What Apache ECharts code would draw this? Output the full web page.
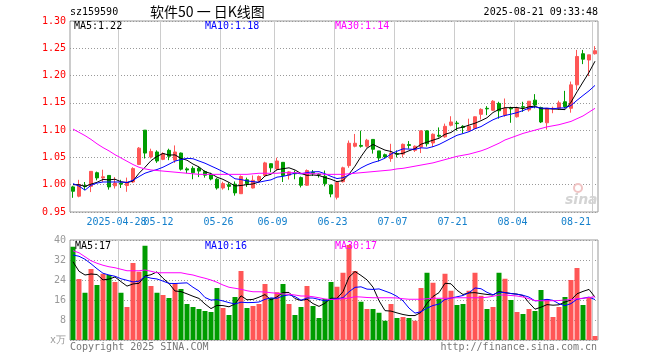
<!DOCTYPE html>
<html><head><meta charset="utf-8">
<script src="https://cdn.jsdelivr.net/npm/echarts@6/dist/echarts.min.js"></script>
<style>html,body{margin:0;padding:0;background:#fff}#c{width:660px;height:360px}</style>
</head><body><div id="c"></div>
<script>
const dates = ['2025-04-16','2025-04-17','2025-04-18','2025-04-21','2025-04-22','2025-04-23','2025-04-24','2025-04-25','2025-04-28','2025-04-29','2025-04-30',
'2025-05-06','2025-05-07','2025-05-08','2025-05-09','2025-05-12','2025-05-13','2025-05-14','2025-05-15','2025-05-16','2025-05-19','2025-05-20','2025-05-21','2025-05-22','2025-05-23','2025-05-26','2025-05-27','2025-05-28','2025-05-29','2025-05-30',
'2025-06-03','2025-06-04','2025-06-05','2025-06-06','2025-06-09','2025-06-10','2025-06-11','2025-06-12','2025-06-13','2025-06-16','2025-06-17','2025-06-18','2025-06-19','2025-06-20','2025-06-23','2025-06-24','2025-06-25','2025-06-26','2025-06-27','2025-06-30',
'2025-07-01','2025-07-02','2025-07-03','2025-07-04','2025-07-07','2025-07-08','2025-07-09','2025-07-10','2025-07-11','2025-07-14','2025-07-15','2025-07-16','2025-07-17','2025-07-18','2025-07-21','2025-07-22','2025-07-23','2025-07-24','2025-07-25','2025-07-28','2025-07-29','2025-07-30','2025-07-31',
'2025-08-01','2025-08-04','2025-08-05','2025-08-06','2025-08-07','2025-08-08','2025-08-11','2025-08-12','2025-08-13','2025-08-14','2025-08-15','2025-08-18','2025-08-19','2025-08-20','2025-08-21'];

const opens = [0.996,0.979,0.998,0.997,1.022,1.0125,1.017,0.998,1.003,0.9985,
1.005,1.037,1.100,1.051,1.060,1.0465,1.063,1.045,1.058,1.029,
1.030,1.030,1.024,1.019,1.010,0.994,1.000,1.001,0.9835,1.009,
0.994,1.008,1.017,1.0385,1.029,1.041,1.0175,1.021,1.013,0.999,
1.0225,1.019,1.0155,0.9995,0.977,1.0055,1.035,1.0705,1.072,1.0705,
1.083,1.062,1.055,1.048,1.057,1.056,1.0735,1.063,1.069,1.0987,
1.0765,1.0905,1.0877,1.109,1.113,1.107,1.099,1.103,1.129,1.140,
1.1365,1.149,1.1275,1.1405,1.1245,1.143,1.137,1.155,1.1415,1.1135,
1.139,1.140,1.152,1.140,1.183,1.240,1.2285,1.240];
const closes = [0.988,1.0005,0.9965,1.0245,1.0125,1.0145,0.996,1.003,1.001,1.0045,
1.0295,1.067,1.058,1.061,1.0435,1.057,1.052,1.060,1.0285,1.027,
1.022,1.025,1.0175,1.0105,0.994,1.002,0.997,0.985,1.015,1.002,
1.008,1.015,1.040,1.031,1.0435,1.017,1.0235,1.020,0.999,1.026,
1.021,1.018,1.002,0.983,1.004,1.031,1.076,1.076,1.0705,1.0815,
1.065,1.049,1.051,1.058,1.056,1.074,1.072,1.0705,1.0987,1.075,
1.0925,1.089,1.107,1.115,1.112,1.105,1.107,1.1245,1.138,1.139,
1.153,1.1355,1.140,1.139,1.140,1.142,1.153,1.146,1.115,1.140,
1.140,1.150,1.143,1.183,1.235,1.230,1.238,1.2455];
const lows = [0.976,0.977,0.990,0.9865,1.008,1.005,0.991,0.993,0.994,0.987,
1.003,1.036,1.048,1.048,1.040,1.045,1.045,1.040,1.026,1.021,
1.010,1.014,1.013,1.008,0.991,0.991,0.990,0.980,0.9835,0.996,
0.993,1.005,1.016,1.023,1.026,1.005,1.0095,1.010,0.995,0.998,
1.016,1.013,0.997,0.977,0.973,1.004,1.031,1.0685,1.068,1.068,
1.057,1.043,1.049,1.042,1.050,1.050,1.066,1.060,1.058,1.070,
1.069,1.0865,1.086,1.107,1.099,1.094,1.098,1.102,1.1195,1.1275,
1.135,1.121,1.1245,1.1135,1.123,1.1335,1.134,1.140,1.113,1.101,
1.131,1.137,1.140,1.132,1.1735,1.221,1.199,1.2385];
const highs = [0.998,1.009,1.005,1.0245,1.024,1.0275,1.017,1.014,1.009,1.013,
1.032,1.069,1.100,1.066,1.063,1.0595,1.066,1.072,1.059,1.032,
1.034,1.033,1.026,1.022,1.012,1.0055,1.004,1.006,1.017,1.013,
1.017,1.017,1.042,1.039,1.0495,1.041,1.025,1.026,1.015,1.028,
1.027,1.021,1.026,1.000,1.006,1.033,1.081,1.093,1.099,1.084,
1.083,1.062,1.057,1.075,1.063,1.0755,1.080,1.072,1.0995,1.0995,
1.094,1.105,1.112,1.1255,1.117,1.109,1.121,1.125,1.140,1.144,
1.155,1.152,1.158,1.143,1.143,1.152,1.153,1.166,1.143,1.140,
1.143,1.154,1.172,1.189,1.247,1.247,1.238,1.254];
const volumes = [37.3,24.4,18.9,28.4,22.0,26.5,26.0,23.2,18.9,13.2,
30.8,27.3,37.7,21.6,18.9,18.0,16.8,22.7,20.4,14.4,
13.2,12.4,11.6,11.2,20.8,12.8,10.0,17.2,27.6,12.8,
13.6,14.4,22.4,16.8,19.1,22.4,14.4,10.0,13.2,21.6,
13.6,8.8,16.4,23.2,21.3,26.9,38.0,27.6,15.3,12.4,
12.4,10.9,7.7,14.4,8.8,9.2,8.8,7.7,20.8,26.9,
22.9,16.4,26.5,19.7,14.0,14.4,19.7,26.9,17.7,12.4,
13.2,26.9,24.5,16.0,11.2,10.4,12.4,11.6,20.0,16.4,
9.2,13.2,17.2,24.0,28.8,14.0,17.2,1.6];
// moving-average values read off the picture where earlier history is not shown
const ma5Lead = [1.000,1.000,0.997,1.001];
const ma10Lead = [1.002,0.9975,0.990,0.999,1.003,1.005,1.005,1.005,1.005];
const ma30 = [1.102,1.096,1.090,1.083,1.075,1.068,1.062,1.055,1.049,1.043,
1.037,1.032,1.029,1.027,1.026,1.025,1.024,1.023,1.022,1.021,
1.020,1.019,1.019,1.019,1.019,1.019,1.019,1.019,1.019,1.019,
1.020,1.021,1.021,1.021,1.021,1.022,1.022,1.022,1.021,1.021,
1.020,1.020,1.019,1.019,1.019,1.019,1.020,1.021,1.022,1.023,
1.024,1.025,1.026,1.027,1.029,1.030,1.032,1.034,1.036,1.038,
1.040,1.043,1.046,1.049,1.052,1.054,1.056,1.059,1.062,1.066,
1.071,1.076,1.082,1.086,1.090,1.094,1.097,1.100,1.103,1.106,
1.108,1.110,1.113,1.116,1.121,1.126,1.133,1.140];
const vma5Lead = [31.3,27.5,26.0,26.4];
const vma10Lead = [34.0,33.5,32.3,30.5,28.5,26.7,26.0,25.5,24.5];
const vma30 = [35.7,34.9,33.3,31.7,30.7,29.9,29.3,28.9,28.3,27.7,
27.7,27.7,28.0,27.5,26.9,26.9,26.9,26.9,26.9,26.4,
26.0,25.3,24.7,24.0,23.1,22.0,21.1,20.7,20.3,19.7,
19.3,19.3,19.2,18.9,18.7,18.4,18.3,18.0,17.6,17.6,
17.3,16.9,16.4,16.2,16.3,16.5,16.8,17.3,17.2,17.0,
16.9,16.9,16.9,16.9,16.8,16.5,16.3,16.3,16.3,16.5,
16.7,16.7,16.7,16.8,16.9,16.9,16.9,16.9,16.9,17.1,
17.5,18.0,18.0,17.8,17.6,17.2,16.5,15.8,15.7,15.7,
15.7,15.8,16.0,16.2,16.5,16.7,17.0,17.3];
const labelIdx = [8,15,25,34,44,54,64,74,87];
const priceTicks = {min:0.95, max:1.30, interval:0.05};
const volTicks = {min:0, max:40, interval:8};

function movingAvg(src, n, lead) {
  return src.map((v, i) => {
    if (i < n - 1) return lead[i];
    let s = 0; for (let k = i - n + 1; k <= i; k++) s += src[k];
    return +(s / n).toFixed(4);
  });
}
const ma5 = movingAvg(closes, 5, ma5Lead);
const ma10 = movingAvg(closes, 10, ma10Lead);
const vma5 = movingAvg(volumes, 5, vma5Lead);
const vma10 = movingAvg(volumes, 10, vma10Lead);

const RED = '#ff5656', GREEN = '#009c00';
const MONO = '"DejaVu Sans Mono", monospace';
const LEFT = 70, WIDTH = 528;
const LABEL_COLOR = '#1580cc';
const DATE_LINE = '#cccccc';
const lineSet = new Set(labelIdx);

function xAxis(g, which) {
  return {
    type: 'category', gridIndex: g, data: dates, boundaryGap: true, position: 'bottom', offset: 0,
    axisLine: {show: false}, axisTick: {show: false}, splitLine: {show: false},
    axisLabel: which ? {
      show: true, interval: (i) => which.has(i), margin: 5, hideOverlap: false,
      formatter: (v, i) => {
        const t = i === 8 ? v : v.slice(5);
        return (i === 87 ? '{e|' : '{n|') + t + '}';
      },
      rich: {
        n: {fontFamily: MONO, fontSize: 10, color: LABEL_COLOR, padding: [0, 9, 0, 0]},
        e: {fontFamily: MONO, fontSize: 10, color: LABEL_COLOR, padding: [0, 38, 0, 0]}
      }
    } : {show: false}
  };
}
function hiddenCat(g) {
  return {type: 'category', gridIndex: g, data: dates, boundaryGap: true, show: false};
}
// date lines: a 1px bar that sits on the right edge of day k-1's band, i.e. the left edge of day k
function dateLineSeries(xi, yi, ticks) {
  return [
    {type: 'bar', xAxisIndex: xi, yAxisIndex: yi, barWidth: 7, barGap: '0%', silent: true, z: 1,
      data: dates.map(() => '-'), itemStyle: {opacity: 0}},
    {type: 'bar', xAxisIndex: xi, yAxisIndex: yi, barWidth: 1, barGap: '0%', silent: true, z: 1,
      data: dates.map((d, i) => (lineSet.has(i + 1) ? ticks.max : '-')), itemStyle: {color: DATE_LINE}}
  ];
}

const chart = echarts.init(document.getElementById('c'), null, {renderer: 'canvas'});
const txt = (x, y, text, color, align, font) => ({
  type: 'text', x: x, y: y, silent: true, z: 10,
  style: {text: text, fill: color, font: font || ('10px ' + MONO), textAlign: align || 'left', textVerticalAlign: 'middle'}
});

chart.setOption({
  animation: false,
  backgroundColor: '#fff',
  grid: [
    {left: LEFT, top: 21, width: WIDTH, height: 191, show: true, borderColor: '#999', borderWidth: 1, backgroundColor: 'transparent'},
    {left: LEFT, top: 240, width: WIDTH, height: 100, show: true, borderColor: '#999', borderWidth: 1, backgroundColor: 'transparent'}
  ],
  xAxis: [
    xAxis(0, new Set(labelIdx.filter((k) => k !== 8))),
    xAxis(1, null),
    xAxis(0, new Set([8])),
    hiddenCat(0),
    hiddenCat(1)
  ],
  yAxis: [
    {type: 'value', gridIndex: 0, min: priceTicks.min, max: priceTicks.max, interval: priceTicks.interval,
      axisLine: {show: false}, axisTick: {show: false},
      axisLabel: {margin: 4, color: '#ff0000', fontFamily: MONO, fontSize: 10, formatter: (v) => v.toFixed(2)},
      splitLine: {show: true, lineStyle: {color: '#999', width: 1, type: [1, 2]}}},
    {type: 'value', gridIndex: 1, min: volTicks.min, max: volTicks.max, interval: volTicks.interval,
      axisLine: {show: false}, axisTick: {show: false},
      axisLabel: {margin: 4, color: '#999', fontFamily: MONO, fontSize: 10, formatter: (v) => v === 0 ? 'x万' : String(v)},
      splitLine: {show: true, lineStyle: {color: '#999', width: 1, type: [1, 2]}}}
  ],
  series: [
    ...dateLineSeries(3, 0, priceTicks),
    ...dateLineSeries(4, 1, volTicks),
    {type: 'candlestick', xAxisIndex: 0, yAxisIndex: 0, barWidth: 4, silent: true, z: 2,
      data: opens.map((o, i) => [o, closes[i], lows[i], highs[i]]),
      itemStyle: {color: RED, color0: GREEN, borderColor: RED, borderColor0: GREEN, borderWidth: 1}},
    {type: 'line', xAxisIndex: 0, yAxisIndex: 0, data: ma5, symbol: 'none', silent: true, z: 3, lineStyle: {width: 1, color: '#000'}},
    {type: 'line', xAxisIndex: 0, yAxisIndex: 0, data: ma10, symbol: 'none', silent: true, z: 3, lineStyle: {width: 1, color: '#0000ff'}},
    {type: 'line', xAxisIndex: 0, yAxisIndex: 0, data: ma30, symbol: 'none', silent: true, z: 3, lineStyle: {width: 1, color: '#ff00ff'}},
    {type: 'bar', xAxisIndex: 1, yAxisIndex: 1, barWidth: 5, silent: true, z: 2,
      data: volumes.map((v, i) => ({value: v, itemStyle: {color: closes[i] >= opens[i] ? RED : GREEN}}))},
    {type: 'line', xAxisIndex: 1, yAxisIndex: 1, data: vma5, symbol: 'none', silent: true, z: 3, lineStyle: {width: 1, color: '#000'}},
    {type: 'line', xAxisIndex: 1, yAxisIndex: 1, data: vma10, symbol: 'none', silent: true, z: 3, lineStyle: {width: 1, color: '#0000ff'}},
    {type: 'line', xAxisIndex: 1, yAxisIndex: 1, data: vma30, symbol: 'none', silent: true, z: 3, lineStyle: {width: 1, color: '#ff00ff'}}
  ],
  graphic: [
    txt(70, 12, 'sz159590', '#000'),
    txt(150, 12, '软件50 一 日K线图', '#000', 'left', '14px "Noto Sans CJK SC", sans-serif'),
    txt(598, 12, '2025-08-21 09:33:48', '#000', 'right'),
    txt(74, 26, 'MA5:1.22', '#000'),
    txt(205, 26, 'MA10:1.18', '#0000ff'),
    txt(335, 26, 'MA30:1.14', '#ff00ff'),
    txt(75, 246, 'MA5:17', '#000'),
    txt(205, 246, 'MA10:16', '#0000ff'),
    txt(335, 246, 'MA30:17', '#ff00ff'),
    txt(70, 347, 'Copyright 2025 SINA.COM', '#777'),
    txt(597, 347, 'http://finance.sina.com.cn', '#777', 'right'),
    {type: 'circle', silent: true, z: 10, shape: {cx: 578, cy: 188, r: 4}, style: {fill: 'none', stroke: '#f0c4c4', lineWidth: 2}},
    txt(565, 200, 'sina', '#d4d4d4', 'left', 'italic bold 14px "DejaVu Sans", sans-serif')
  ]
});
</script>
</body></html>
